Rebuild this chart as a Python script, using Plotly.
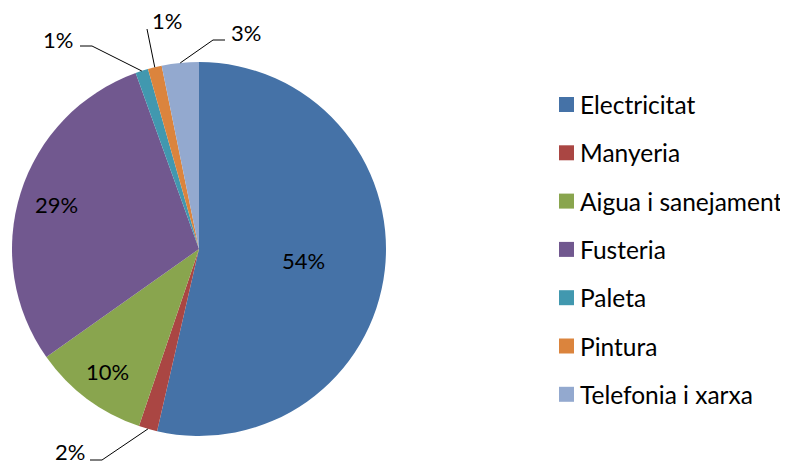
import math
import plotly.graph_objects as go

W, H = 788, 464
# the page body has an 8px margin, so the figure is drawn 8px in from the corner
OFF = 8
FW, FH = W - OFF, H - OFF

categories = ["Electricitat", "Manyeria", "Aigua i sanejament", "Fusteria",
              "Paleta", "Pintura", "Telefonia i xarxa"]
values = [53.6, 1.6, 10.0, 29.3, 1.1, 1.2, 3.2]
colors = ["#4572A7", "#AA4643", "#89A54E", "#71588F", "#4198AF", "#DB843D", "#93A9CF"]

FONT = "Lato"
FS_LABEL = 22
FS_LEGEND = 24.5

# pie geometry in pixels
CX, CY, R = 199, 249, 187

# inside labels: fraction of radius along the slice middle
inside_r = {"Electricitat": 0.56, "Aigua i sanejament": 0.82, "Fusteria": 0.80}
# outside labels: text centre and elbow points of the leader line
outside = {
    "Manyeria": ((70, 451), [(90, 460), (102, 460)]),
    "Paleta": ((58, 39), [(80, 46), (92, 46)]),
    "Pintura": ((167, 20), [(147, 29)]),
    "Telefonia i xarxa": ((246, 32), [(225, 40), (213, 40)]),
}

# legend layout
LEG_X, LEG_Y0, LEG_DY, SQ = 559, 104.5, 48.3, 15


def px(x):
    return (x - OFF) / FW


def py(y):
    return 1 - (y - OFF) / FH


fig = go.Figure(
    go.Pie(
        labels=categories,
        values=values,
        sort=False,
        direction="clockwise",
        rotation=0,
        marker=dict(colors=colors, line=dict(width=0)),
        textinfo="none",
        showlegend=False,
        domain=dict(x=[px(CX - R), px(CX + R)], y=[py(CY + R), py(CY - R)]),
    )
)

annotations = []
shapes = []
total = sum(values)
cum = 0
for name, v in zip(categories, values):
    mid = (cum + v / 2) / total * 2 * math.pi
    cum += v
    dx, dy = math.sin(mid), -math.cos(mid)
    text = f"{round(v / total * 100)}%"
    box = {}
    if name in inside_r:
        f = inside_r[name]
        tx, ty = CX + f * R * dx, CY + f * R * dy
    else:
        (tx, ty), elbow = outside[name]
        pts = elbow + [(CX + R * dx, CY + R * dy)]
        path = "M " + " L ".join(f"{px(a)} {py(b)}" for a, b in pts)
        shapes.append(dict(type="path", path=path, xref="paper", yref="paper",
                           line=dict(color="black", width=1)))
        box = dict(height=18, borderpad=0)  # keep the box inside the page edge
    annotations.append(dict(x=px(tx), y=py(ty), text=text,
                            xref="paper", yref="paper", showarrow=False,
                            xanchor="center", yanchor="middle",
                            font=dict(size=FS_LABEL), **box))

# legend
for i, (name, c) in enumerate(zip(categories, colors)):
    yc = LEG_Y0 + i * LEG_DY
    shapes.append(dict(type="rect", xref="paper", yref="paper",
                       x0=px(LEG_X), x1=px(LEG_X + SQ),
                       y0=py(yc + SQ / 2), y1=py(yc - SQ / 2),
                       fillcolor=c, line=dict(width=0)))
    annotations.append(dict(x=px(LEG_X + SQ + 4), y=py(yc), text=name,
                            xref="paper", yref="paper", showarrow=False,
                            xanchor="left", yanchor="middle",
                            font=dict(size=FS_LEGEND)))

fig.update_layout(
    width=FW,
    height=FH,
    margin=dict(l=0, r=0, t=0, b=0),
    paper_bgcolor="white",
    plot_bgcolor="white",
    font=dict(family=FONT, size=FS_LABEL, color="black"),
    annotations=annotations,
    shapes=shapes,
)

fig.write_html("out.html")
